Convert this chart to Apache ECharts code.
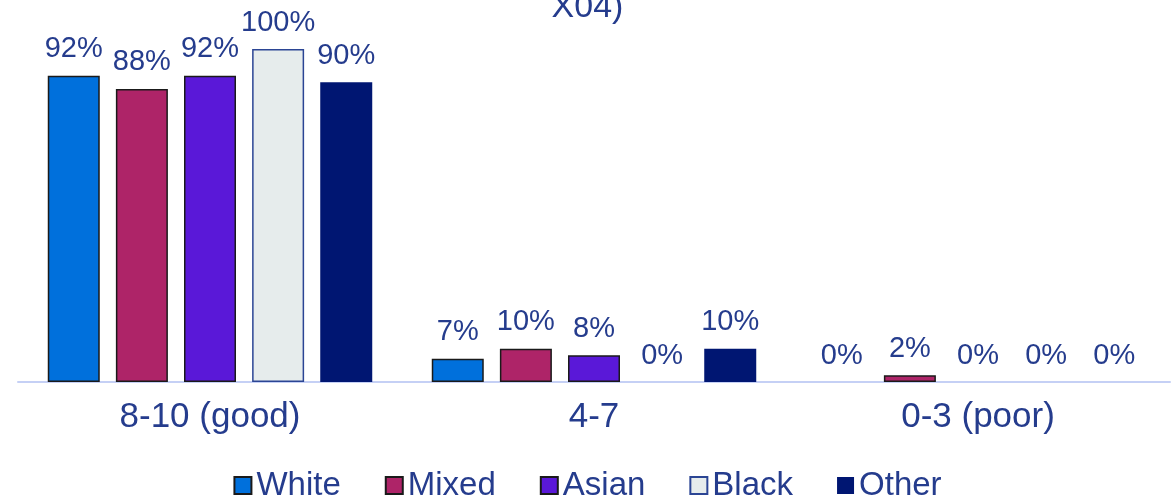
<!DOCTYPE html>
<html>
<head>
<meta charset="utf-8">
<style>
    html, body { margin: 0; padding: 0; background: #fff; }
    #chart { width: 1175px; height: 502px; }
</style>
<script src="https://cdn.jsdelivr.net/npm/echarts@6/dist/echarts.min.js"></script>
</head>
<body>
<div id="chart"></div>
<script>
    // categories and series values (percent)
    var categories = ['8-10 (good)', '4-7', '0-3 (poor)'];
    var seriesNames = ['White', 'Mixed', 'Asian', 'Black', 'Other'];
    var white = [92, 7, 0];
    var mixed = [88, 10, 2];
    var asian = [92, 8, 0];
    var black = [100, 0, 0];
    var other = [90, 10, 0];

    var textColor = '#253C8D';
    var fills = ['#0070DC', '#AE2468', '#5A18D8', '#E6ECEC', '#001672'];
    var borders = ['#1a1a1a', '#1a1a1a', '#1a1a1a', '#2B4594', '#001672'];
    var values = [white, mixed, asian, black, other];

    var myChart = echarts.init(document.getElementById('chart'));

    var series = seriesNames.map(function (name, i) {
        return {
            name: name,
            type: 'bar',
            // zero bars: no outline, only the label is shown
            data: values[i].map(function (v) {
                return v === 0 ? {value: v, itemStyle: {borderWidth: 0, color: 'transparent'}} : v;
            }),
            barWidth: 52,
            barGap: '31%',
            itemStyle: {
                color: fills[i],
                borderColor: borders[i],
                borderWidth: i === 4 ? 0 : 1.5
            },
            label: {
                show: true,
                position: 'top',
                distance: 12,
                formatter: '{c}%',
                color: textColor,
                fontSize: 29,
                fontFamily: 'Liberation Sans'
            }
        };
    });

    var option = {
        animation: false,
        title: {
            text: 'X04)',
            left: 'center',
            top: -14,
            textStyle: {
                color: textColor,
                fontSize: 34,
                fontWeight: 'normal',
                fontFamily: 'Liberation Sans'
            }
        },
        legend: {
            data: seriesNames,
            bottom: -5,
            left: 'center',
            icon: 'rect',
            itemWidth: 17,
            itemHeight: 17,
            itemGap: 44,
            textStyle: {
                color: textColor,
                fontSize: 33,
                fontFamily: 'Liberation Sans'
            }
        },
        grid: {
            left: 18,
            right: 5,
            top: 49,
            bottom: 120
        },
        xAxis: {
            type: 'category',
            data: categories,
            axisLine: { lineStyle: { color: '#C5D0F5', width: 2 } },
            axisTick: { show: false },
            axisLabel: {
                color: textColor,
                fontSize: 35,
                margin: 18,
                fontFamily: 'Liberation Sans'
            }
        },
        yAxis: {
            type: 'value',
            min: 0,
            max: 100,
            show: false
        },
        series: series
    };
    myChart.setOption(option);
</script>
</body>
</html>
